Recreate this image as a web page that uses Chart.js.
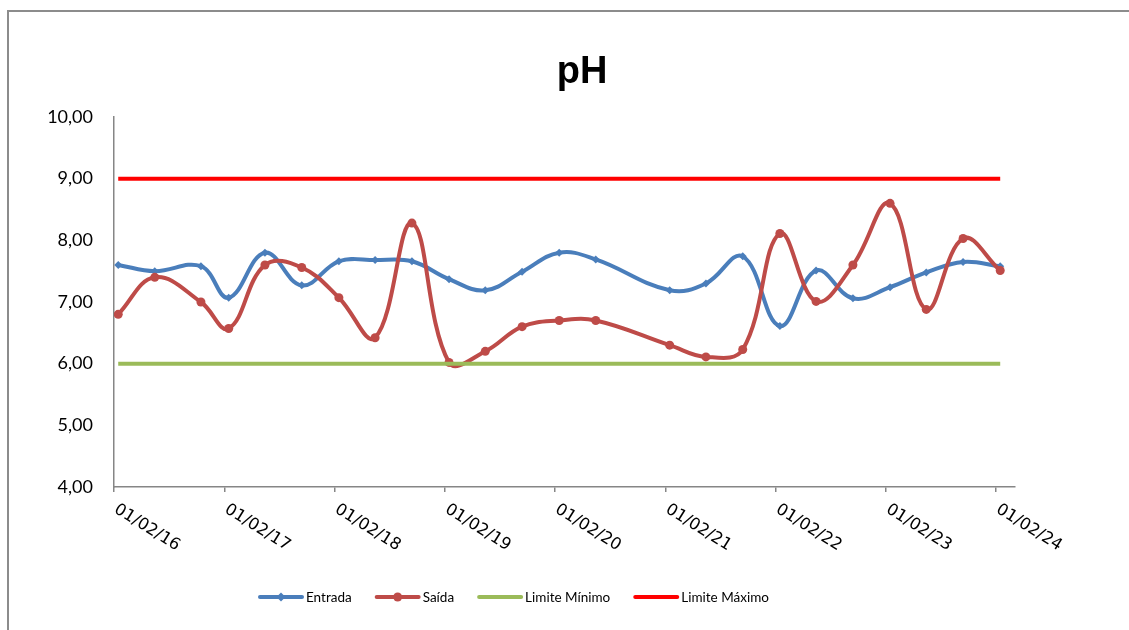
<!DOCTYPE html>
<html>
<head>
<meta charset="utf-8">
<script src="https://cdn.jsdelivr.net/npm/chart.js@4"></script>
<style>
    html, body { margin: 0; padding: 0; background: #fff; overflow: hidden; }
    #wrap { position: relative; width: 1129px; height: 630px; }
    #frame {
        position: absolute; left: 7px; top: 10px; right: -10px; bottom: -10px;
        border-top: 2px solid #8c8c8c; border-left: 2px solid #8c8c8c;
    }
    #chart { position: absolute; left: 0; top: 0; }
</style>
</head>
<body>
<div id="wrap">
    <div id="frame"></div>
    <canvas id="chart" width="1129" height="630"></canvas>
</div>
<script>
/* pH — Entrada / Saída */

// --- Data ---

const dates = [
    '2016-02-15', '2016-06-15', '2016-11-15', '2017-02-15', '2017-06-15', '2017-10-15',
    '2018-02-15', '2018-06-15', '2018-10-15', '2019-02-15', '2019-06-15', '2019-10-15',
    '2020-02-15', '2020-06-15', '2021-02-15', '2021-06-15', '2021-10-15', '2022-02-15',
    '2022-06-15', '2022-10-15', '2023-02-15', '2023-06-15', '2023-10-15', '2024-02-15'
];
const entrada = [
    7.60, 7.50, 7.58, 7.07, 7.80, 7.27, 7.66, 7.68, 7.66, 7.37, 7.19, 7.49,
    7.80, 7.69, 7.19, 7.30, 7.74, 6.61, 7.51, 7.06, 7.24, 7.48, 7.65, 7.58
];
const saida = [
    6.80, 7.40, 7.00, 6.57, 7.60, 7.56, 7.07, 6.42, 8.28, 6.02, 6.20, 6.60,
    6.70, 6.70, 6.30, 6.11, 6.23, 8.11, 7.01, 7.60, 8.60, 6.88, 8.03, 7.51
];
const limiteMinimo = 6.00;
const limiteMaximo = 9.00;

const tickDates = [
    '2016-02-01', '2017-02-01', '2018-02-01', '2019-02-01', '2020-02-01',
    '2021-02-01', '2022-02-01', '2023-02-01', '2024-02-01'
];
const tickLabels = [
    '01/02/16', '01/02/17', '01/02/18', '01/02/19', '01/02/20',
    '01/02/21', '01/02/22', '01/02/23', '01/02/24'
];
const axisStart = '2016-02-01';
const axisEnd = '2024-04-04';

// --- Helpers ---

function toTime(s) {
    return new Date(s + 'T00:00:00Z').getTime();
}

function formatPH(v) {
    return v.toFixed(2).replace('.', ',');
}

const xs = dates.map(toTime);
const pts = (vals) => vals.map((v, i) => ({ x: xs[i], y: v }));
const flat = (v) => [{ x: xs[0], y: v }, { x: xs[xs.length - 1], y: v }];

const AXIS = '#868686';
const COLORS = {
    entrada: '#4a7ebb',
    saida: '#be4b48',
    min: '#9bbb59',
    max: '#ff0000',
};

// --- Plugins: title, rotated date labels, legend ---

const decorations = {
    id: 'decorations',
    afterDraw(chart) {
        const ctx = chart.ctx;
        const xScale = chart.scales.x;

        ctx.save();
        ctx.fillStyle = '#000';
        ctx.font = 'bold 38px "Liberation Sans", Arial, sans-serif';
        ctx.textAlign = 'center';
        ctx.textBaseline = 'alphabetic';
        ctx.fillText('pH', 582, 83);

        ctx.font = '16.5px "DejaVu Sans", sans-serif';
        ctx.textAlign = 'left';
        ctx.textBaseline = 'top';
        tickDates.forEach((d, i) => {
            const x = xScale.getPixelForValue(toTime(d));
            ctx.save();
            ctx.translate(x + 6, 501);
            ctx.rotate(32 * Math.PI / 180);
            ctx.fillText(tickLabels[i], 0, 0);
            ctx.restore();
        });

        const items = [
            { label: 'Entrada', color: COLORS.entrada, marker: 'diamond' },
            { label: 'Saída', color: COLORS.saida, marker: 'circle' },
            { label: 'Limite Mínimo', color: COLORS.min, marker: null },
            { label: 'Limite Máximo', color: COLORS.max, marker: null },
        ];
        ctx.font = '13.5px Lato, sans-serif';
        ctx.textBaseline = 'middle';
        let lx = 259;
        const ly = 597;
        items.forEach(it => {
            ctx.strokeStyle = it.color;
            ctx.fillStyle = it.color;
            ctx.lineWidth = 4;
            ctx.lineCap = 'round';
            ctx.beginPath();
            ctx.moveTo(lx + 1, ly);
            ctx.lineTo(lx + 43, ly);
            ctx.stroke();
            const mx = lx + 22;
            if (it.marker === 'diamond') {
                ctx.beginPath();
                ctx.moveTo(mx, ly - 4.5);
                ctx.lineTo(mx + 4.5, ly);
                ctx.lineTo(mx, ly + 4.5);
                ctx.lineTo(mx - 4.5, ly);
                ctx.closePath();
                ctx.fill();
            } else if (it.marker === 'circle') {
                ctx.beginPath();
                ctx.arc(mx, ly, 4.5, 0, Math.PI * 2);
                ctx.fill();
            }
            ctx.fillStyle = '#000';
            ctx.fillText(it.label, lx + 47, ly + 1);
            lx += 47 + ctx.measureText(it.label).width + 24;
        });
        ctx.restore();
    }
};

// --- Chart ---

const ctx = document.getElementById('chart').getContext('2d');
new Chart(ctx, {
    type: 'line',
    data: {
        datasets: [
            {
                label: 'Entrada',
                data: pts(entrada),
                borderColor: COLORS.entrada,
                backgroundColor: COLORS.entrada,
                borderWidth: 4,
                pointStyle: 'rectRot',
                pointRadius: 4,
                pointBorderWidth: 0,
                tension: 0.4,
                order: 4,
            },
            {
                label: 'Saída',
                data: pts(saida),
                borderColor: COLORS.saida,
                backgroundColor: COLORS.saida,
                borderWidth: 4,
                pointStyle: 'circle',
                pointRadius: 4.5,
                pointBorderWidth: 0,
                tension: 0.4,
                order: 3,
            },
            {
                label: 'Limite Mínimo',
                data: flat(limiteMinimo),
                borderColor: COLORS.min,
                borderWidth: 4,
                pointRadius: 0,
                order: 2,
            },
            {
                label: 'Limite Máximo',
                data: flat(limiteMaximo),
                borderColor: COLORS.max,
                borderWidth: 4,
                pointRadius: 0,
                order: 1,
            },
        ]
    },
    options: {
        responsive: false,
        animation: false,
        devicePixelRatio: 1,
        layout: { padding: { left: 0, top: 117, right: 114, bottom: 0 } },
        plugins: {
            legend: { display: false },
            title: { display: false },
            tooltip: { enabled: false },
        },
        scales: {
            x: {
                type: 'linear',
                min: toTime(axisStart),
                max: toTime(axisEnd),
                afterBuildTicks: (scale) => {
                    scale.ticks = tickDates.map(d => ({ value: toTime(d) }));
                },
                afterFit: (scale) => { scale.height = 143; },
                ticks: { display: false },
                grid: {
                    display: true,
                    drawOnChartArea: false,
                    drawTicks: true,
                    tickLength: 5,
                    color: AXIS,
                    lineWidth: 1.5,
                },
                border: { display: true, color: AXIS, width: 1.5 },
            },
            y: {
                min: 4,
                max: 10,
                afterFit: (scale) => { scale.width = 114; },
                ticks: {
                    stepSize: 1,
                    padding: 21,
                    color: '#000',
                    font: { family: 'Lato', size: 18 },
                    callback: v => formatPH(v),
                },
                grid: { display: false, drawTicks: false },
                border: { display: true, color: AXIS, width: 1.5 },
            }
        }
    },
    plugins: [decorations]
});
</script>
</body>
</html>
